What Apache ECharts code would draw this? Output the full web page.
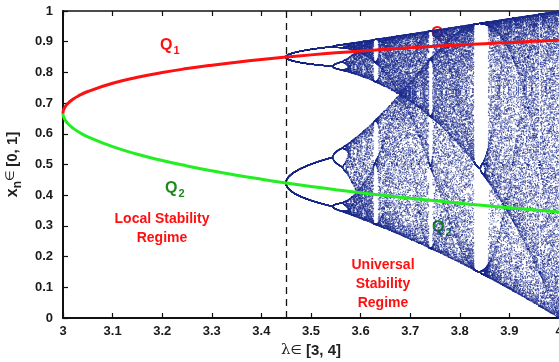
<!DOCTYPE html>
<html>
<head>
<meta charset="utf-8">
<script src="https://cdn.jsdelivr.net/npm/echarts@6/dist/echarts.min.js"></script>
<style>
  html, body { margin: 0; padding: 0; background: #fff; }
  #chart { width: 559px; height: 362px; }
</style>
</head>
<body>
<div id="chart"></div>
<script>
// Period-2 branches of the logistic map (upper Q1, lower Q2) against λ
const lambdaQ = [3.0, 3.001, 3.005, 3.01, 3.02, 3.03, 3.05, 3.1, 3.15, 3.2, 3.25, 3.3, 3.35, 3.4, 3.45,
                 3.5, 3.55, 3.6, 3.65, 3.7, 3.75, 3.8, 3.85, 3.9, 3.95, 4.0];
const q1Values = [0.6667, 0.6772, 0.6899, 0.6994, 0.7125, 0.7224, 0.7377, 0.7646, 0.7840, 0.7995, 0.8124,
                  0.8236, 0.8334, 0.8422, 0.8500, 0.8571, 0.8637, 0.8696, 0.8751, 0.8803, 0.8850, 0.8894,
                  0.8936, 0.8974, 0.9011, 0.9045];
const q2Values = [0.6667, 0.6561, 0.6429, 0.6329, 0.6186, 0.6076, 0.5902, 0.5580, 0.5335, 0.5130, 0.4953,
                  0.4794, 0.4651, 0.4520, 0.4398, 0.4286, 0.4180, 0.4082, 0.3988, 0.3900, 0.3817, 0.3737,
                  0.3662, 0.3590, 0.3521, 0.3455];

// Orbit diagram of x(n+1) = λ·x(n)·(1 − x(n)) from the period-4 onset onwards
const lambdaStart = 3.449;
const lambdaEnd = 4.0;
const lambdaSteps = 600;
const transient = 400;
const keep = 110;
const onsetLambda = 3.449;

const xTicks = ['3', '3.1', '3.2', '3.3', '3.4', '3.5', '3.6', '3.7', '3.8', '3.9', '4'];
const yTicks = ['0', '0.1', '0.2', '0.3', '0.4', '0.5', '0.6', '0.7', '0.8', '0.9', '1'];

const orbit = [];
for (let i = 0; i <= lambdaSteps; i++) {
  const r = lambdaStart + (lambdaEnd - lambdaStart) * i / lambdaSteps;
  let x = 0.5;
  for (let k = 0; k < transient; k++) x = r * x * (1 - x);
  for (let k = 0; k < keep; k++) {
    x = r * x * (1 - x);
    orbit.push([r, x]);
  }
}

const q1Data = lambdaQ.map((l, i) => [l, q1Values[i]]);
const q2Data = lambdaQ.map((l, i) => [l, q2Values[i]]);

const chart = echarts.init(document.getElementById('chart'), null, { renderer: 'canvas' });
const bold = { fontFamily: 'Liberation Sans, Arial, sans-serif', fontWeight: 'bold' };
const RED = '#ff1010';
const DARK_GREEN = '#1a8c1a';

function qLabel(x, y, idx, color) {
  return {
    type: 'text', x: x, y: y, z: 100,
    style: {
      text: '{q|Q}{s|' + idx + '}',
      rich: {
        q: { ...bold, fontSize: 16, fill: color },
        s: { ...bold, fontSize: 11, fill: color, padding: [10, 0, 0, 1] }
      }
    }
  };
}

function regimeLabel(cx, y, text) {
  return {
    type: 'text', x: cx, y: y, z: 100,
    style: { text: text, align: 'center', ...bold, fontSize: 14, lineHeight: 19, fill: RED }
  };
}

chart.setOption({
  animation: false,
  backgroundColor: '#fff',
  grid: { left: 63, right: 0, top: 11, bottom: 44, containLabel: false, outerBoundsMode: 'none' },
  xAxis: [{
    type: 'value', min: 3, max: 4, interval: 0.1, position: 'bottom',
    axisLine: { lineStyle: { color: '#111', width: 2 } },
    axisTick: { inside: true, length: 5, lineStyle: { color: '#111', width: 1.2 } },
    axisLabel: {
      margin: 7, color: '#1a1a1a', fontSize: 13, ...bold,
      formatter: v => xTicks[Math.round((v - 3) * 10)]
    },
    splitLine: { show: false },
    name: '{l|λ}{e|∈ }{b|[3, 4]}', nameLocation: 'middle', nameGap: 25,
    nameTextStyle: {
      rich: {
        l: { fontFamily: 'DejaVu Serif, serif', fontSize: 15, color: '#222' },
        e: { fontFamily: 'DejaVu Sans, sans-serif', fontSize: 13, color: '#222' },
        b: { ...bold, fontSize: 15, color: '#222' }
      }
    }
  }, {
    type: 'value', min: 3, max: 4, interval: 0.1, position: 'top',
    axisLine: { show: true, lineStyle: { color: '#111', width: 1.5 } },
    axisTick: { inside: true, length: 5, lineStyle: { color: '#111', width: 1.2 } },
    axisLabel: { show: false }, splitLine: { show: false }
  }],
  yAxis: [{
    type: 'value', min: 0, max: 1, interval: 0.1,
    axisLine: { show: true, lineStyle: { color: '#111', width: 2 } },
    axisTick: { show: true, inside: true, length: 5, lineStyle: { color: '#111', width: 1.2 } },
    axisLabel: {
      margin: 10, color: '#1a1a1a', fontSize: 13, ...bold,
      formatter: v => yTicks[Math.round(v * 10)]
    },
    splitLine: { show: false },
    name: '{x|x}{s|n}{e|∈ }{b|[0, 1]}', nameLocation: 'middle', nameGap: 38, nameRotate: 90,
    nameTextStyle: {
      rich: {
        x: { ...bold, fontSize: 16, color: '#222' },
        s: { ...bold, fontSize: 12, color: '#222', padding: [10, 0, 0, 0] },
        e: { fontFamily: 'DejaVu Sans, sans-serif', fontSize: 12, color: '#222', padding: [0, 0, 4, 0] },
        b: { ...bold, fontSize: 15, color: '#222' }
      }
    }
  }],
  series: [{
    type: 'scatter',
    data: orbit,
    symbol: 'rect',
    symbolSize: 1,
    large: true,
    largeThreshold: 1000,
    progressive: 0,
    itemStyle: { color: '#1d2c8e', opacity: 0.72 },
    silent: true,
    markLine: {
      silent: true, symbol: 'none', label: { show: false },
      lineStyle: { color: '#111', type: [7, 5], width: 1.3 },
      data: [{ xAxis: onsetLambda }]
    }
  }, {
    type: 'line', data: q1Data, smooth: true, showSymbol: false,
    lineStyle: { color: RED, width: 3 }, z: 5
  }, {
    type: 'line', data: q2Data, smooth: true, showSymbol: false,
    lineStyle: { color: '#22ee22', width: 3 }, z: 5
  }],
  graphic: [
    qLabel(160, 35, 1, RED),
    qLabel(165, 178, 2, DARK_GREEN),
    qLabel(431, 23, 1, RED),
    qLabel(432, 217, 2, DARK_GREEN),
    regimeLabel(162, 210, 'Local Stability\nRegime'),
    regimeLabel(383, 256, 'Universal\nStability\nRegime')
  ]
});
</script>
</body>
</html>
